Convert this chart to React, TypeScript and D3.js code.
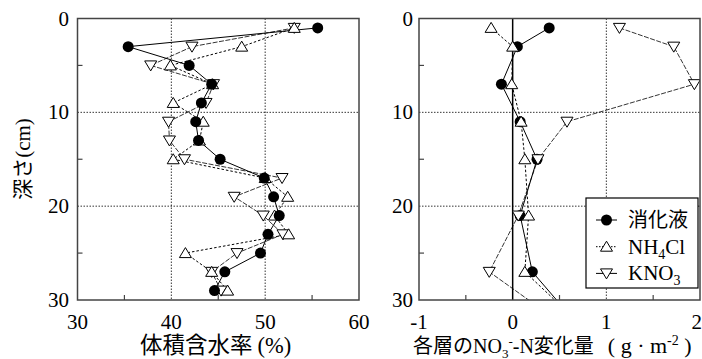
import React from 'react';
import * as d3 from 'd3';

// left panel: volumetric water content by depth
const leftDepth = [1, 3, 5, 7, 9, 11, 13, 15, 17, 19, 21, 23, 25, 27, 29];
const leftDigest = [55.6, 35.4, 41.9, 44.3, 43.2, 42.6, 42.9, 45.2, 49.9, 50.9, 51.5, 50.3, 49.5, 45.7, 44.6];
const leftNH4 = [53.1, 47.5, 39.9, 44.4, 40.2, 43.4, 43.0, 40.2, 50.0, 52.4, 51.0, 52.5, 41.5, 44.3, 46.0];
const leftKNO3 = [53.1, 42.2, 37.8, 44.5, 43.7, 39.7, 39.8, 41.4, 51.8, 46.7, 49.8, 51.9, 47.0, 44.3, 45.3];

// right panel: NO3-N change per layer (last row lies below 30cm, clipped)
const rightDepth = [1, 3, 7, 11, 15, 21, 27, 35];
const rightDigest = [0.39, 0.05, -0.12, 0.08, 0.26, 0.08, 0.21, 0.9];
const rightNH4 = [-0.23, 0.0, -0.01, 0.09, 0.13, 0.17, 0.13, 0.98];
const rightKNO3 = [1.14, 1.72, 1.94, 0.58, 0.27, 0.06, -0.25, 0.87];

const depthTicks = [0, 10, 20, 30];
const leftXTicks = [30, 40, 50, 60];
const rightXTicks = [-1, 0, 1, 2];

const FONT = "Liberation Serif, Times New Roman, Noto Sans CJK JP, serif";
const AXIS = '#444';

const upTri = 'M0,-5.5L6,4.5L-6,4.5Z';
const downTri = 'M0,5.5L6,-4.5L-6,-4.5Z';

type Series = { key: string; values: number[]; marker: 'circle' | 'up' | 'down'; dash: string; width: number };

const Marker = ({ kind, x, y }: { kind: string; x: number; y: number }) => {
  if (kind === 'circle') return <circle cx={x} cy={y} r={5.5} fill="#000" />;
  return (
    <path d={kind === 'up' ? upTri : downTri} transform={`translate(${x},${y})`}
      fill="#fff" stroke="#000" strokeWidth={1} />
  );
};

const Panel = ({ id, left, right, xDomain, xTicks, minorX, gridX, zeroLine, depth, series, yLabelX }: any) => {
  const top = 18.5;
  const bottom = 300;
  const x = d3.scaleLinear().domain(xDomain).range([left, right]);
  const y = d3.scaleLinear().domain([0, 30]).range([top, bottom]);
  const line = d3.line<[number, number]>().x(d => x(d[0])).y(d => y(d[1]));

  return (
    <g>
      <defs>
        <clipPath id={id}>
          <rect x={left} y={top} width={right - left} height={bottom - top} />
        </clipPath>
      </defs>
      {/* grid */}
      {gridX.map((v: number) => (
        <line key={'gx' + v} x1={x(v)} x2={x(v)} y1={top} y2={bottom} stroke="#000" strokeWidth={0.8} strokeDasharray="1.5,1.5" />
      ))}
      {[10, 20].map(v => (
        <line key={'gy' + v} x1={left} x2={right} y1={y(v)} y2={y(v)} stroke="#000" strokeWidth={0.8} strokeDasharray="1.5,1.5" />
      ))}
      {zeroLine && <line x1={x(0)} x2={x(0)} y1={top} y2={bottom} stroke="#000" strokeWidth={1.5} />}
      {/* minor ticks */}
      {minorX.map((v: number) => (
        <line key={'mx' + v} x1={x(v)} x2={x(v)} y1={bottom} y2={bottom - 5} stroke={AXIS} strokeWidth={1.2} />
      ))}
      {[5, 15, 25].map(v => (
        <line key={'my' + v} x1={left} x2={left + 5} y1={y(v)} y2={y(v)} stroke={AXIS} strokeWidth={1.2} />
      ))}
      {/* series */}
      <g clipPath={`url(#${id})`}>
        {series.map((s: Series) => (
          <path key={s.key + 'l'} d={line(depth.map((d: number, i: number) => [s.values[i], d])) || ''}
            fill="none" stroke="#000" strokeWidth={s.width} strokeDasharray={s.dash} />
        ))}
        {series.map((s: Series) => (
          <g key={s.key + 'm'}>
            {depth.map((d: number, i: number) => (
              <Marker key={i} kind={s.marker} x={x(s.values[i])} y={y(d)} />
            ))}
          </g>
        ))}
      </g>
      {/* frame */}
      <rect x={left} y={top} width={right - left} height={bottom - top} fill="none" stroke={AXIS} strokeWidth={1.5} />
      {/* tick labels */}
      {depthTicks.map(v => (
        <text key={'ty' + v} x={yLabelX} y={y(v) + 7} textAnchor="end" fontSize={21} fontFamily={FONT}>{v}</text>
      ))}
      {xTicks.map((v: number) => {
        const edge = x(v) + 6 > 702;
        return (
          <text key={'tx' + v} x={edge ? 702 : x(v)} y={329} textAnchor={edge ? 'end' : 'middle'}
            fontSize={21} fontFamily={FONT}>{v}</text>
        );
      })}
    </g>
  );
};

const leftSeries: Series[] = [
  { key: 'kno3', values: leftKNO3, marker: 'down', dash: '5,1.5', width: 0.8 },
  { key: 'nh4', values: leftNH4, marker: 'up', dash: '2.5,2', width: 1 },
  { key: 'digest', values: leftDigest, marker: 'circle', dash: '', width: 1 },
];

const rightSeries: Series[] = [
  { key: 'digest', values: rightDigest, marker: 'circle', dash: '', width: 1 },
  { key: 'nh4', values: rightNH4, marker: 'up', dash: '2.5,2', width: 1 },
  { key: 'kno3', values: rightKNO3, marker: 'down', dash: '5,1.5', width: 0.8 },
];

const legendItems = [
  { marker: 'circle', dash: '', label: '消化液' },
  { marker: 'up', dash: '1.5,1.5', label: 'NH4Cl' },
  { marker: 'down', dash: '', label: 'KNO3' },
];

const LegendLabel = ({ label, x, y }: { label: string; x: number; y: number }) => {
  if (label === 'NH4Cl')
    return (
      <text x={x} y={y} fontSize={21} fontFamily={FONT}>NH<tspan fontSize={14} dy={5}>4</tspan><tspan dy={-5}>Cl</tspan></text>
    );
  if (label === 'KNO3')
    return (
      <text x={x} y={y} fontSize={21} fontFamily={FONT}>KNO<tspan fontSize={14} dy={5}>3</tspan></text>
    );
  return <text x={x} y={y} fontSize={20} fontFamily={FONT}>{label}</text>;
};

export default function App() {
  return (
    <svg width={702} height={359} style={{ position: 'absolute', left: 0, top: 0, background: '#fff' }}>
      <rect width={702} height={359} fill="#fff" />
      <Panel id="clipL" left={77.5} right={359} xDomain={[30, 60]} xTicks={leftXTicks}
        minorX={[35, 45, 55]} gridX={[40, 50]} zeroLine={false}
        depth={leftDepth} series={leftSeries} yLabelX={69} />
      <Panel id="clipR" left={419} right={700} xDomain={[-1, 2]} xTicks={rightXTicks}
        minorX={[-0.5, 0.5, 1.5]} gridX={[1]} zeroLine={true}
        depth={rightDepth} series={rightSeries} yLabelX={413} />

      {/* y axis title */}
      <text transform="translate(30,159) rotate(-90)" textAnchor="middle" fontSize={21} fontFamily={FONT}>深さ(cm)</text>

      {/* x axis titles */}
      <text x={140} y={353} fontSize={22.5} fontFamily={FONT}>体積含水率<tspan dx={5}>(%)</tspan></text>
      <text x={413} y={353} fontSize={20} fontFamily={FONT}>
        各層のNO<tspan fontSize={13} dy={5}>3</tspan><tspan fontSize={13} dy={-12}>-</tspan><tspan dy={7}>-N変化量</tspan><tspan dx={14} fontSize={22}>( g · m</tspan><tspan fontSize={14} dy={-8}>-2</tspan><tspan fontSize={22} dy={8}> )</tspan>
      </text>

      {/* legend */}
      <rect x={586} y={198} width={112} height={90} fill="#fff" stroke="#000" strokeWidth={1.2} />
      {legendItems.map((it, i) => {
        const cy = 220 + i * 26.7;
        return (
          <g key={it.label}>
            <line x1={596} x2={617} y1={cy} y2={cy} stroke="#000" strokeWidth={1} strokeDasharray={it.dash} />
            <Marker kind={it.marker} x={606.5} y={cy} />
            <LegendLabel label={it.label} x={628} y={cy + 7} />
          </g>
        );
      })}
    </svg>
  );
}
